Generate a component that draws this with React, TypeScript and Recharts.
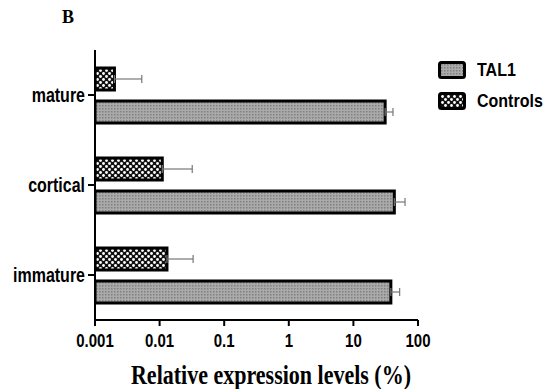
import { BarChart, Bar, XAxis, YAxis, ErrorBar } from 'recharts'

const categories = ['mature', 'cortical', 'immature']
const tal1Values = [31, 43, 38]
const tal1Sd = [10, 20, 14]
const controlValues = [0.002, 0.011, 0.013]
const controlSd = [0.0033, 0.021, 0.02]
const xTicks = [0.001, 0.01, 0.1, 1, 10, 100]

const data = categories.map((name, i) => ({
  name,
  controls: controlValues[i],
  controlsErr: [0, controlSd[i]],
  tal1: tal1Values[i],
  tal1Err: [0, tal1Sd[i]],
}))

const sans = '"Liberation Sans", Arial, sans-serif'
const serif = '"Liberation Serif", "Times New Roman", serif'

const legendItems = [
  { label: 'TAL1', fill: 'url(#patTal1)' },
  { label: 'Controls', fill: 'url(#patCtrl)' },
]

function Patterns() {
  return (
    <defs>
      <pattern id="patTal1" width="3" height="3" patternUnits="userSpaceOnUse">
        <rect width="3" height="3" fill="#aaa" />
        <rect x="0" y="0" width="1.5" height="1.5" fill="#808080" />
      </pattern>
      <pattern id="patCtrl" width="6" height="6" patternUnits="userSpaceOnUse">
        <rect width="6" height="6" fill="#111" />
        <circle cx="1.5" cy="1.5" r="1.4" fill="#fff" />
        <circle cx="4.5" cy="4.5" r="1.4" fill="#fff" />
      </pattern>
    </defs>
  )
}

// the source figure's lettering is a bit stretched vertically
const XTick = ({ x, y, payload }: any) => (
  <g transform={`translate(${x},${y}) scale(1,1.22)`}>
    <text textAnchor="middle" dy="0.71em" fill="#000" fontSize={15} fontWeight="bold" fontFamily={sans}>
      {String(payload.value)}
    </text>
  </g>
)

const YTick = ({ x, y, payload }: any) => (
  <g transform={`translate(${x},${y}) scale(1,1.22)`}>
    <text textAnchor="end" dy="0.355em" fill="#000" fontSize={16} fontWeight="bold" fontFamily={sans}>
      {payload.value}
    </text>
  </g>
)

export default function App() {
  return (
    <div style={{ position: 'absolute', left: 0, top: 0, width: 552, height: 389, background: '#fff' }}>
      <div style={{ position: 'absolute', left: 62, top: 7, fontFamily: serif, fontWeight: 'bold', fontSize: 18, lineHeight: '20px' }}>B</div>
      <BarChart
        width={552}
        height={389}
        data={data}
        layout="vertical"
        margin={{ top: 50, right: 134, left: 0, bottom: 39 }}
        barSize={22}
        barGap={11}
      >
        <Patterns />
        <XAxis
          type="number"
          scale="log"
          domain={[0.001, 100]}
          allowDataOverflow
          ticks={xTicks}
          height={30}
          axisLine={{ stroke: '#000', strokeWidth: 2 }}
          tickLine={{ stroke: '#000', strokeWidth: 2 }}
          tickSize={6}
          tickMargin={8}
          tick={<XTick />}
        />
        <YAxis
          type="category"
          dataKey="name"
          width={95}
          axisLine={{ stroke: '#000', strokeWidth: 2 }}
          tickLine={{ stroke: '#000', strokeWidth: 2 }}
          tickSize={7}
          tickMargin={3}
          tick={<YTick />}
        />
        <Bar dataKey="controls" fill="url(#patCtrl)" stroke="#000" strokeWidth={3} isAnimationActive={false}>
          <ErrorBar dataKey="controlsErr" direction="x" width={4} stroke="#777" strokeWidth={1.2} />
        </Bar>
        <Bar dataKey="tal1" fill="url(#patTal1)" stroke="#000" strokeWidth={3} isAnimationActive={false}>
          <ErrorBar dataKey="tal1Err" direction="x" width={4} stroke="#777" strokeWidth={1.2} />
        </Bar>
      </BarChart>
      <div
        style={{
          position: 'absolute',
          left: 271,
          top: 375,
          transform: 'translate(-50%, -50%) scaleY(1.25)',
          fontFamily: serif,
          fontWeight: 'bold',
          fontSize: 22,
          whiteSpace: 'nowrap',
          color: '#000',
        }}
      >
        Relative expression levels (%)
      </div>
      <div style={{ position: 'absolute', left: 438, top: 54 }}>
        {legendItems.map((item) => (
          <div key={item.label} style={{ display: 'flex', alignItems: 'center', height: 31 }}>
            <svg width={28} height={18} style={{ marginRight: 11 }}>
              <rect x={1.5} y={1.5} width={25} height={15} rx={2} fill={item.fill} stroke="#000" strokeWidth={3} />
            </svg>
            <span
              style={{
                fontFamily: sans,
                fontWeight: 'bold',
                fontSize: 16,
                color: '#000',
                display: 'inline-block',
                transform: 'scaleY(1.2)',
              }}
            >
              {item.label}
            </span>
          </div>
        ))}
      </div>
    </div>
  )
}
